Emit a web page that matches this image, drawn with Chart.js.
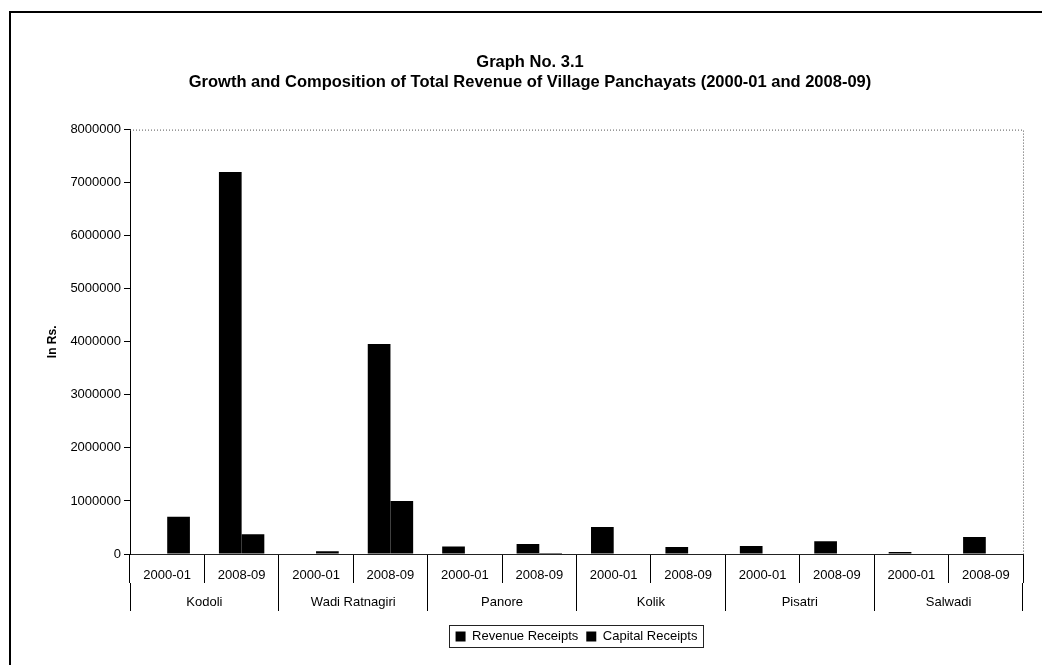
<!DOCTYPE html>
<html>
<head>
<meta charset="utf-8">
<title>Graph No. 3.1</title>
<script src="https://cdn.jsdelivr.net/npm/chart.js@4/dist/chart.umd.min.js"></script>
<style>
  html, body { margin: 0; padding: 0; background: #fff; }
  canvas { display: block; }
</style>
</head>
<body>
<canvas id="revenueChart" width="1042" height="665"></canvas>
<script>
  const villages = ["Kodoli", "Wadi Ratnagiri", "Panore", "Kolik", "Pisatri", "Salwadi"];
  const years = ["2000-01", "2008-09"];
  const yearLabels = villages.flatMap(() => years);

  // order: village by village, 2000-01 then 2008-09
  const revenueReceipts = [0, 7200000, 0, 3960000, 140000, 190000, 510000, 130000, 150000, 240000, 40000, 320000];
  const capitalReceipts = [700000, 370000, 50000, 1000000, 0, 20000, 0, 0, 0, 0, 10000, 0];

  const yTicks = [0, 1000000, 2000000, 3000000, 4000000, 5000000, 6000000, 7000000, 8000000];

  const fontFamily = "Arial, 'Liberation Sans', sans-serif";

  const frame = {
    id: "frame",
    afterLayout(chart) {
      // centre legend under the plot, title over the whole figure
      const area = chart.chartArea;
      const legend = chart.legend;
      const dx = (area.left + area.right) / 2 - (legend.left + legend.right) / 2;
      legend.left += dx;
      legend.right += dx;
      legend.top += 11;
      legend.bottom += 11;
      const title = chart.titleBlock;
      const tx = 530 - (title.left + title.right) / 2;
      title.left += tx;
      title.right += tx;
    },
    beforeDraw(chart) {
      const ctx = chart.ctx;
      ctx.save();
      ctx.strokeStyle = "#000";
      ctx.lineWidth = 2;
      ctx.beginPath();
      ctx.moveTo(10, chart.height);
      ctx.lineTo(10, 12);
      ctx.lineTo(chart.width, 12);
      ctx.stroke();
      ctx.restore();
    },
    beforeDatasetsDraw(chart) {
      const { ctx, chartArea: a } = chart;
      ctx.save();
      ctx.strokeStyle = "#555";
      ctx.lineWidth = 1;
      ctx.setLineDash([1, 2]);
      ctx.beginPath();
      ctx.moveTo(a.left, a.top + 0.5);
      ctx.lineTo(a.right + 0.5, a.top + 0.5);
      ctx.lineTo(a.right + 0.5, a.bottom);
      ctx.stroke();
      ctx.restore();
    },
    afterDraw(chart) {
      const boxes = chart.legend.legendHitBoxes;
      if (!boxes || !boxes.length) {
        return;
      }
      const left = Math.min(...boxes.map(b => b.left));
      const right = Math.max(...boxes.map(b => b.left + b.width));
      const top = boxes[0].top;
      const ctx = chart.ctx;
      ctx.save();
      ctx.strokeStyle = "#222";
      ctx.lineWidth = 1;
      ctx.strokeRect(Math.round(left - 7) + 0.5, Math.round(top - 5) + 0.5, Math.round(right - left + 12), 22);
      ctx.restore();
    }
  };

  new Chart(document.getElementById("revenueChart"), {
    type: "bar",
    data: {
      labels: yearLabels,
      datasets: [
        {
          label: "Revenue Receipts",
          data: revenueReceipts,
          backgroundColor: "#000",
          categoryPercentage: 0.61,
          barPercentage: 1.0
        },
        {
          label: "Capital Receipts",
          data: capitalReceipts,
          backgroundColor: "#000",
          categoryPercentage: 0.61,
          barPercentage: 1.0
        }
      ]
    },
    options: {
      responsive: false,
      devicePixelRatio: 1,
      animation: false,
      layout: { padding: { left: 0, right: 19, top: 0, bottom: 23 } },
      plugins: {
        title: {
          display: true,
          text: ["Graph No. 3.1", "Growth and Composition of Total Revenue of Village Panchayats (2000-01 and 2008-09)"],
          color: "#000",
          font: { family: fontFamily, size: 16.5, weight: "bold", lineHeight: 1.2 },
          padding: { top: 53, bottom: 37 }
        },
        legend: {
          position: "bottom",
          labels: {
            color: "#000",
            boxWidth: 10,
            boxHeight: 10,
            padding: 8,
            font: { family: fontFamily, size: 13 }
          }
        },
        tooltip: { enabled: false }
      },
      scales: {
        x: {
          type: "category",
          position: "bottom",
          weight: 1,
          offset: true,
          grid: { offset: true, drawOnChartArea: false, color: "#000", tickLength: 29 },
          border: { display: true, color: "#222" },
          ticks: {
            color: "#000",
            autoSkip: false,
            maxRotation: 0,
            padding: -15,
            font: { family: fontFamily, size: 13 }
          },
          afterFit(scale) {
            scale.height = 29;
          }
        },
        x2: {
          type: "category",
          labels: villages,
          position: "bottom",
          weight: 2,
          offset: true,
          grid: { offset: true, drawOnChartArea: false, color: "#000", tickLength: 28 },
          border: { display: false },
          ticks: {
            color: "#000",
            autoSkip: false,
            maxRotation: 0,
            padding: -16,
            font: { family: fontFamily, size: 13 }
          },
          afterFit(scale) {
            scale.height = 28;
          }
        },
        y: {
          min: 0,
          max: 8000000,
          afterBuildTicks(scale) {
            scale.ticks = yTicks.map(value => ({ value }));
          },
          grid: { drawOnChartArea: false, color: "#000", tickLength: 6 },
          border: { display: true, color: "#000" },
          ticks: {
            color: "#000",
            padding: 3,
            font: { family: fontFamily, size: 13 },
            callback: value => String(value)
          },
          title: {
            display: true,
            text: "In Rs.",
            color: "#000",
            font: { family: fontFamily, size: 12, weight: "bold" },
            padding: { top: 45, bottom: 0 }
          },
          afterFit(scale) {
            scale.width = 130;
          }
        }
      }
    },
    plugins: [frame]
  });
</script>
</body>
</html>
